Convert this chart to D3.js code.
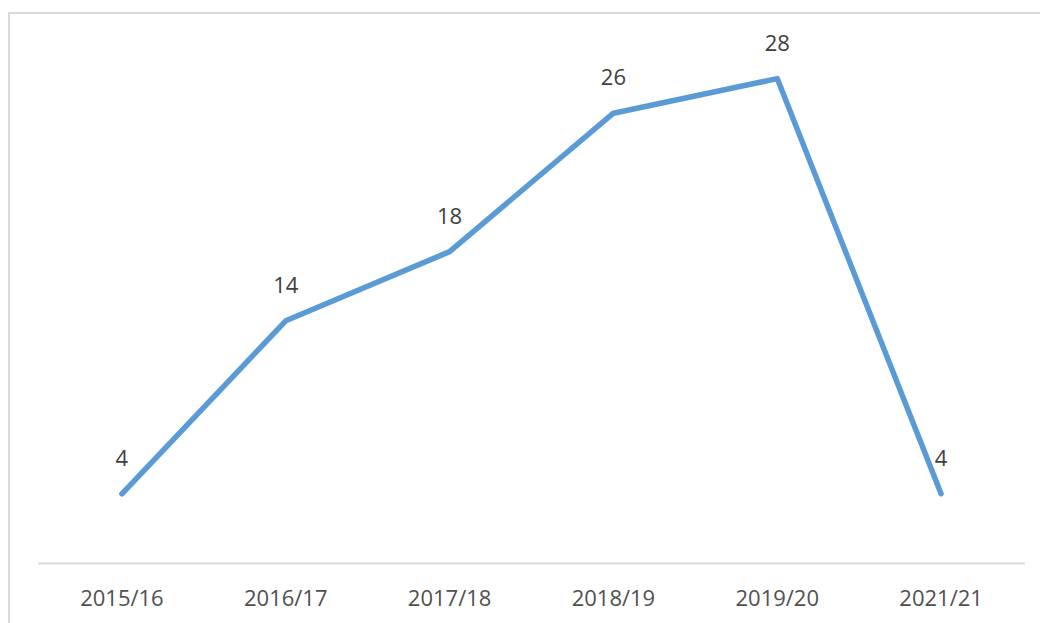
<!DOCTYPE html>
<html><head><meta charset="utf-8">
<script src="https://cdn.jsdelivr.net/npm/d3@7"></script>
<style>body{margin:0;background:#fff}svg{display:block}</style>
</head><body>
<svg id="c" width="1040" height="623"></svg>
<script>
const categories = ["2015/16","2016/17","2017/18","2018/19","2019/20","2021/21"];
const values = [4,14,18,26,28,4];
const yDomain = [0,30];

const svg = d3.select("#c");
svg.append("rect").attr("x",9).attr("y",13).attr("width",1040).attr("height",620)
  .attr("fill","none").attr("stroke","#d9d9d9").attr("stroke-width",2);

const x = d3.scaleBand().domain(categories).range([40,1023]);
const y = d3.scaleLinear().domain(yDomain).range([563,44]);

svg.append("line").attr("x1",38).attr("x2",1025).attr("y1",y(0)+0.5).attr("y2",y(0)+0.5)
  .attr("stroke","#d9d9d9").attr("stroke-width",2);

const font = "'Open Sans', 'Liberation Sans', sans-serif";
const xAxis = svg.append("g").attr("transform",`translate(0,${y(0)})`).call(d3.axisBottom(x).tickSize(0).tickPadding(0));
xAxis.select(".domain").remove();
xAxis.selectAll("text").attr("y",27).attr("fill","#505050")
  .style("font-family",font).style("font-size","22px");

const line = d3.line().x((d,i)=>x(categories[i])+x.bandwidth()/2).y(d=>y(d));
svg.append("path").datum(values).attr("d",line).attr("fill","none")
  .attr("stroke","#5b9bd5").attr("stroke-width",5.5).attr("stroke-linecap","round").attr("stroke-linejoin","round");

svg.selectAll(".lbl").data(values).enter().append("text")
  .attr("x",(d,i)=>x(categories[i])+x.bandwidth()/2).attr("y",d=>y(d)-28)
  .attr("text-anchor","middle").attr("fill","#404040")
  .style("font-family",font).style("font-size","22px")
  .text(d=>d);
</script>
</body></html>
